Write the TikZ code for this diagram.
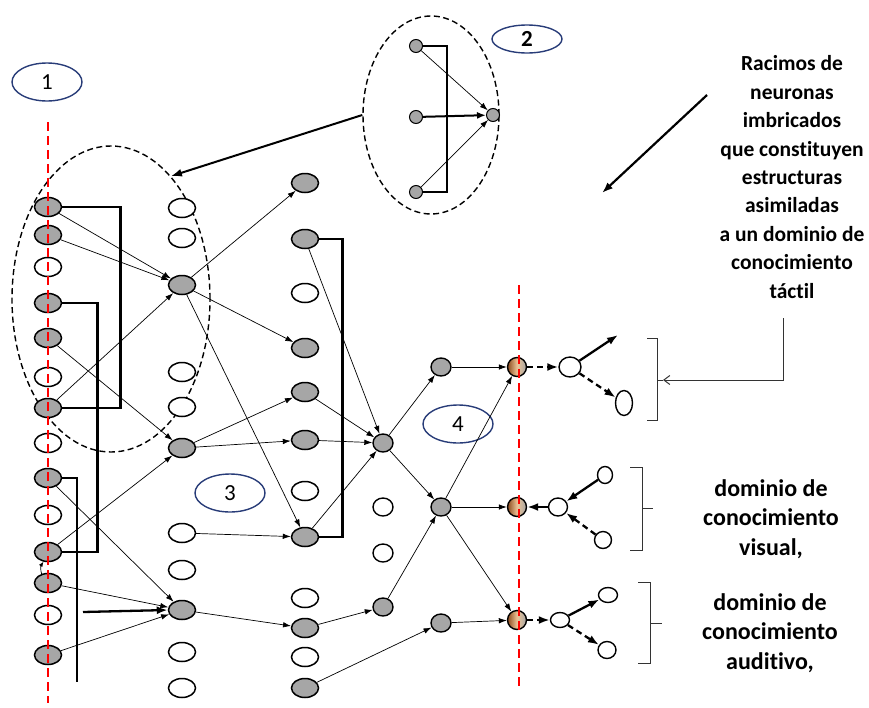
\documentclass[tikz,border=0pt]{standalone}
\usepackage{fontspec}
\setmainfont{Carlito}[Ligatures=CommonOff]
\usetikzlibrary{arrows.meta,shapes.geometric,calc}
\definecolor{ngray}{RGB}{166,166,166}
\definecolor{lblue}{RGB}{40,60,120}
\definecolor{fbrown}{RGB}{140,75,30}
\definecolor{fcream}{RGB}{235,195,150}
\tikzset{
 big/.style={ellipse,draw,line width=1.5pt,minimum width=27pt,minimum height=19pt,inner sep=0pt},
 gb/.style={big,fill=ngray}, wb/.style={big,fill=white},
 sm/.style={ellipse,draw,line width=1.4pt,minimum width=20pt,minimum height=18pt,inner sep=0pt},
 gs/.style={sm,fill=ngray}, ws/.style={sm,fill=white},
 fn/.style={circle,draw,line width=1.4pt,minimum size=19pt,inner sep=0pt,left color=fbrown,right color=ngray,middle color=fcream},
 on/.style={ellipse,draw,line width=1.4pt,inner sep=0pt,fill=white},
 qn/.style={circle,draw,line width=1pt,minimum size=13pt,inner sep=0pt,fill=ngray},
 arr/.style={-{Latex[length=8pt,width=5.5pt]},line width=0.7pt},
 tarr/.style={-{Latex[length=11pt,width=8pt]},line width=2.3pt},
 darr/.style={tarr,dash pattern=on 6pt off 4pt},
 brk/.style={line width=2.6pt},
 cluster/.style={ellipse,draw,line width=1.4pt,dash pattern=on 6pt off 3.5pt,inner sep=0pt},
 lbl/.style={ellipse,draw=lblue,line width=1.4pt,minimum width=70pt,minimum height=38pt,inner sep=0pt,font=\fontsize{23}{24}\selectfont},
 redl/.style={red,line width=2.4pt,dash pattern=on 9pt off 5pt},
 brc/.style={line width=1pt,draw=black!80},
 txt/.style={align=center,font=\bfseries\fontsize{21.5}{28.4}\selectfont},
 txtb/.style={align=center,font=\bfseries\fontsize{24}{29.3}\selectfont}
}
\begin{document}
\begin{tikzpicture}[x=1pt,y=-1pt]
\useasboundingbox (0,0) rectangle (869,707);
% clusters
\node[cluster,minimum width=198pt,minimum height=306pt] (El1) at (111,299) {};
\node[cluster,minimum width=136pt,minimum height=198pt] (El2) at (431,115) {};
% labels
\node[lbl] (L1) at (47,82) {1};
\node[lbl,minimum height=28pt,font=\bfseries\fontsize{23}{24}\selectfont] (L2) at (527,39) {2};
\node[lbl] (L3) at (230,493) {3};
\node[lbl] (L4) at (458,424) {4};
% column A
\foreach \n/\y/\s in {1/207/gb,2/235/gb,3/267/wb,4/303/gb,5/338/gb,6/377/wb,7/408/gb,8/443/wb,9/478/gb,10/515/wb,11/552/gb,12/583/gb,13/615/wb,14/655/gb}
  \node[\s] (A\n) at (48,\y) {};
% column B
\foreach \n/\y/\s in {1/208/wb,2/238/wb,3/285/gb,4/372/wb,5/407/wb,6/448/gb,7/533/wb,8/570/wb,9/610/gb,10/652/wb,11/688/wb}
  \node[\s] (B\n) at (182,\y) {};
% column C
\foreach \n/\y/\s in {1/183/gb,2/239/gb,3/293/wb,4/348/gb,5/392/gb,6/440/gb,7/491/wb,8/537/gb,9/598/wb,10/628/gb,11/657/wb,12/688/gb}
  \node[\s] (C\n) at (305,\y) {};
% column D
\foreach \n/\y/\s in {1/443/gs,2/507/ws,3/553/ws,4/607/gs}
  \node[\s] (D\n) at (383,\y) {};
% column E
\foreach \n/\y in {1/367,2/507,3/623}
  \node[gs] (E\n) at (441,\y) {};
% column F
\foreach \n/\y in {1/367,2/507,3/620}
  \node[fn] (F\n) at (517,\y) {};
% outputs
\node[on,minimum width=22pt,minimum height=20pt] (G1) at (570,367) {};
\node[on,minimum width=17pt,minimum height=25pt] (H1) at (624,403) {};
\coordinate (T1) at (618,335);
\node[on,minimum width=19pt,minimum height=18pt] (G2) at (558,507) {};
\node[on,minimum width=15pt,minimum height=17pt] (H2a) at (605,475) {};
\node[on,minimum width=17pt,minimum height=17pt] (H2b) at (603,540) {};
\node[on,minimum width=19pt,minimum height=15pt] (G3) at (560,620) {};
\node[on,minimum width=19pt,minimum height=15pt] (H3a) at (608,595) {};
\node[on,minimum width=18pt,minimum height=17pt] (H3b) at (607,650) {};
% cluster 2 content
\node[qn] (q1) at (416,46) {};
\node[qn] (q2) at (416,117) {};
\node[qn] (q3) at (416,192) {};
\node[qn] (qt) at (493,115) {};
\draw[line width=2pt] (q1.east) -- ++(24,0) |- (q3.east);
\draw[arr] (q1) -- (qt);
\draw[arr] (q3) -- (qt);
\draw[-{Latex[length=9pt,width=7pt]},line width=2pt] (q2) -- (qt);
\draw[tarr,line width=2pt] (El2.west) -- (El1.64);
% brackets
\coordinate (L3end) at (77,682);
\coordinate (TA) at (83,612);
\draw[brk] (A1.east) -- ++(58.5,0) |- (A7.east);
\draw[brk] (A4.east) -- ++(35.5,0) |- (A11.east);
\draw[brk] (A9.east) -| (L3end);
\draw[brk] (C2.east) -- ++(23.5,0) |- (C8.east);
\draw[tarr] (TA) -- (B9.west);
\draw[-{Latex[length=5pt,width=4pt]},line width=0.7pt] (A12.125) to[bend left=25] (A11.245);
% thin arrows
\foreach \a/\b in {A1/B3,A2/B3,A7/B3,A5/B6,A11/B6,A9/B9,A12/B9,A14/B9,
  B3/C1,B3/C4,B3/C8,B6/C5,B6/C6,B7/C8,B9/C10,
  C2/D1,C5/D1,C6/D1,C8/D1,C10/D4,C12/E3,
  D1/E1,D1/E2,D4/E2,E1/F1,E2/F1,E2/F2,E2/F3,E3/F3}
  \draw[arr] (\a) -- (\b);
% output arrows
\draw[darr] (F1) -- (G1);
\draw[tarr] (G1) -- (T1);
\draw[darr] (G1) -- (H1);
\draw[tarr] (G2) -- (F2);
\draw[tarr] (H2a) -- (G2);
\draw[darr] (H2b) -- (G2);
\draw[darr] (F3) -- (G3);
\draw[tarr] (G3) -- (H3a);
\draw[darr] (G3) -- (H3b);
% red lines
\coordinate (R1t) at (48,122); \coordinate (R1b) at (48,703);
\coordinate (R2t) at (519,285); \coordinate (R2b) at (519,687);
\draw[redl] (R1t) -- (R1b);
\draw[redl] (R2t) -- (R2b);
% right brackets
\coordinate (K1) at (663,380);
\draw[brc] (647,338) -- (657,338) -- (657,420) -- (647,420);
\draw[brc] (657,380) -- (K1);
\draw[brc] (630,467) -- (642,467) -- (642,550) -- (630,550);
\coordinate (K2) at (653,508);
\draw[brc] (642,508) -- (K2);
\draw[brc] (638,582) -- (650,582) -- (650,663) -- (638,663);
\coordinate (K3) at (662,623);
\draw[brc] (650,623) -- (K3);
% texts
\node[txt] (tx1) at (792,177) {Racimos de\\neuronas\\imbricados\\que constituyen\\estructuras\\asimiladas\\a un dominio de\\conocimiento\\táctil};
\node[txtb] (tx2) at (771,519) {dominio de\\conocimiento\\visual,};
\node[txtb] (tx3) at (770,633) {dominio de\\conocimiento\\auditivo,};
\coordinate (P1) at (783,318);
\coordinate (P2) at (783,380);
\draw[brc,-{Straight Barb[length=6pt,width=9pt]}] (P1) -- (P2) -- (K1);
\coordinate (S1) at (707,95);
\coordinate (S2) at (602,193);
\draw[tarr,line width=2.2pt] (S1) -- (S2);
\end{tikzpicture}
\end{document}
